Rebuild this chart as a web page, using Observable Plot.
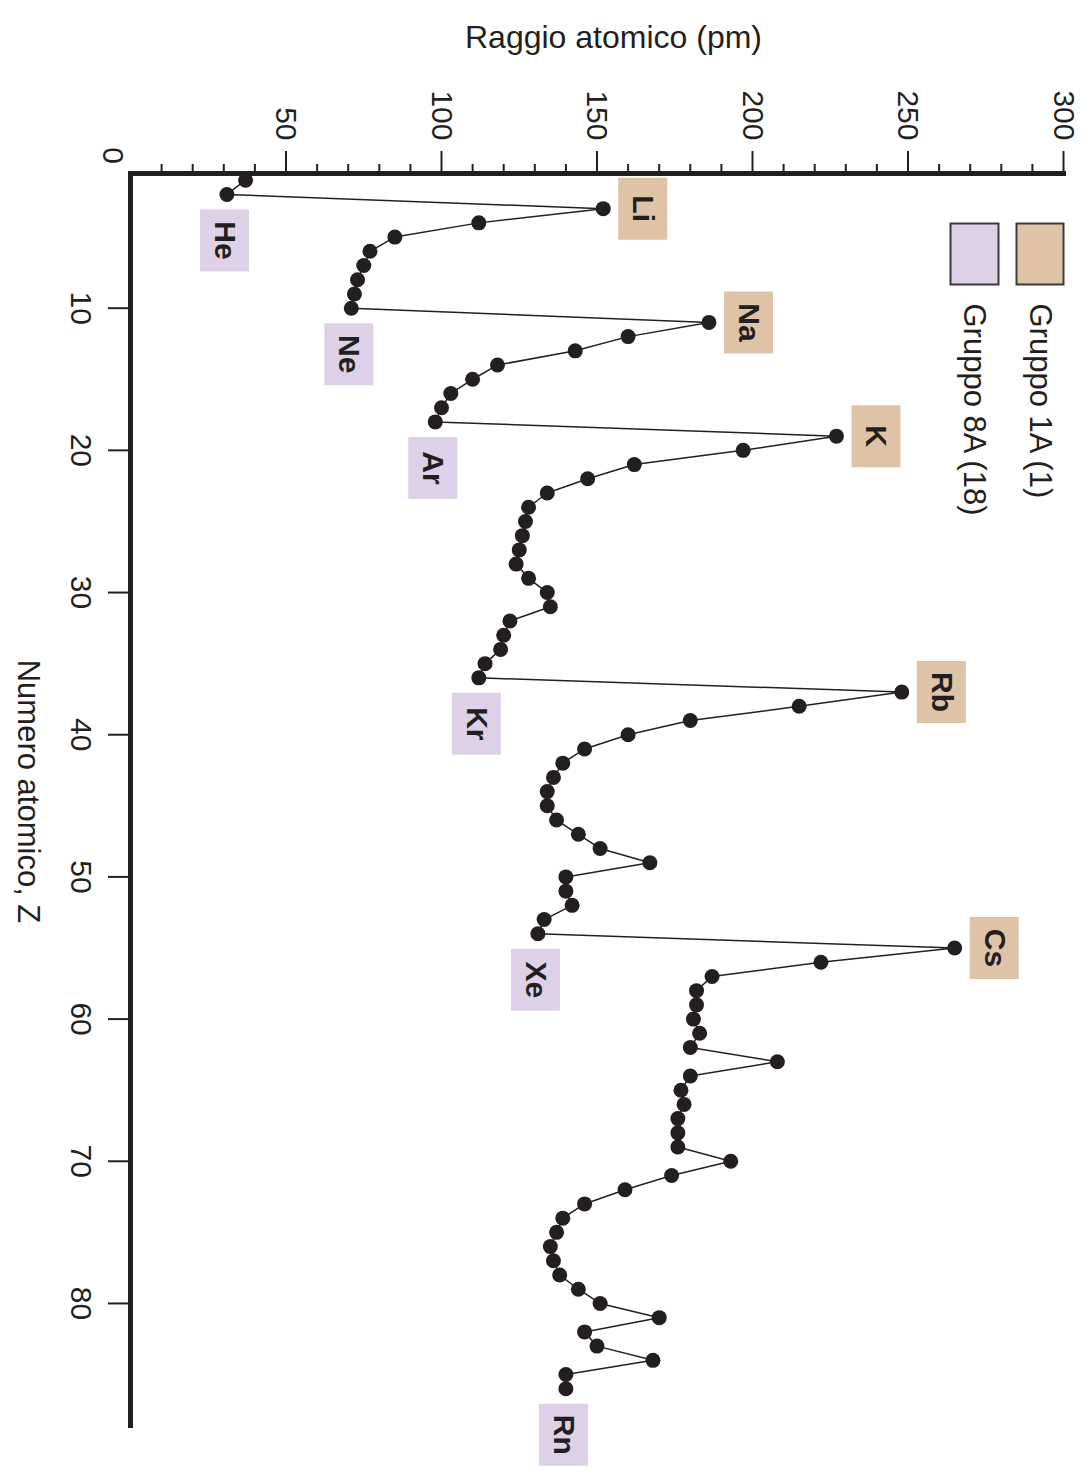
<!DOCTYPE html>
<html><head><meta charset="utf-8">
<script src="https://cdn.jsdelivr.net/npm/d3@7"></script>
<script src="https://cdn.jsdelivr.net/npm/@observablehq/plot@0.6"></script>
<style>html,body{margin:0;padding:0;background:#fff}</style>
</head><body><div id="chart"></div>
<script>
// Atomic radii (pm) by period, Z = 1 .. 86
const period1 = [37, 31];
const period2 = [152, 112, 85, 77, 75, 73, 72, 71];
const period3 = [186, 160, 143, 118, 110, 103, 100, 98];
const period4 = [227, 197, 162, 147, 134, 128, 127, 126, 125, 124, 128, 134, 135, 122, 120, 119, 114, 112];
const period5 = [248, 215, 180, 160, 146, 139, 136, 134, 134, 137, 144, 151, 167, 140, 140, 142, 133, 131];
const period6 = [265, 222, 187, 182, 182, 181, 183, 180, 208, 180, 177, 178, 176, 176, 176, 193, 174, 159, 146, 139, 137, 135, 136, 138, 144, 151, 170, 146, 150, 168, 140, 140];

const group1A = ["Li", "Na", "K", "Rb", "Cs"];
const group1AZ = [3, 11, 19, 37, 55];
const group8A = ["He", "Ne", "Ar", "Kr", "Xe", "Rn"];
const group8AZ = [2, 10, 18, 36, 54, 86];

const radiusTicks = [50, 100, 150, 200, 250, 300];
const radiusMinorTicks = [10, 20, 30, 40, 60, 70, 80, 90, 110, 120, 130, 140, 160, 170, 180, 190, 210, 220, 230, 240, 260, 270, 280, 290];
const zTicks = [10, 20, 30, 40, 50, 60, 70, 80];

const titleRadius = "Raggio atomico (pm)";
const titleZ = "Numero atomico, Z";
const legendLabels = ["Gruppo 1A (1)", "Gruppo 8A (18)"];

const ink = "#231f20";
const tan = "#dfc3a7";
const lilac = "#ddd0e7";

const radii = [...period1, ...period2, ...period3, ...period4, ...period5, ...period6];
const data = radii.map((r, i) => ({z: i + 1, r}));
const labels1A = group1A.map((name, i) => ({name, z: group1AZ[i], r: radii[group1AZ[i] - 1]}));
const labels8A = group8A.map((name, i) => ({name, z: group8AZ[i], r: radii[group8AZ[i] - 1]}));

const box = (x0, y0, w, h) => ({draw(ctx) { ctx.rect(x0, y0, w, h); }});
const mid = {textAnchor: "middle", lineAnchor: "middle"};

const chart = Plot.plot({
  width: 1089,
  height: 1472,
  marginLeft: 130,
  marginRight: 26,
  marginTop: 173,
  marginBottom: 47,
  style: {fontFamily: "'Liberation Sans', Arial, Helvetica, sans-serif", color: ink, background: "#fff"},
  x: {domain: [0, 300], range: [130, 1063]},
  y: {domain: [0, 88], range: [165.5, 1416.7]},
  marks: [
    Plot.axisX(radiusMinorTicks, {anchor: "top", tickSize: 10, strokeWidth: 2, stroke: ink, tickFormat: () => "", label: null}),
    Plot.axisX(radiusTicks, {anchor: "top", tickSize: 23, strokeWidth: 2, stroke: ink, tickFormat: () => "", label: null}),
    Plot.axisY(zTicks, {anchor: "left", tickSize: 22, strokeWidth: 2, stroke: ink, tickFormat: () => "", label: null}),
    Plot.frame({anchor: "top", stroke: ink, strokeWidth: 5}),
    Plot.frame({anchor: "left", stroke: ink, strokeWidth: 5}),
    Plot.text(radiusTicks, {x: d => d, text: d => String(d), frameAnchor: "top", rotate: 90, textAnchor: "end", lineAnchor: "middle", dy: -33, fontSize: 30}),
    Plot.text([0], {x: d => d, text: d => String(d), frameAnchor: "top", rotate: 90, ...mid, dx: -18, dy: -18, fontSize: 30}),
    Plot.text(zTicks, {y: d => d, text: d => String(d), frameAnchor: "left", rotate: 90, ...mid, dx: -50, fontSize: 30}),
    Plot.text([titleRadius], {text: d => d, frameAnchor: "top", ...mid, dx: 16.5, dy: -136, fontSize: 32}),
    Plot.text([titleZ], {text: d => d, frameAnchor: "left", rotate: 90, ...mid, dx: -103, dy: -8, fontSize: 31}),
    Plot.line(data, {x: "r", y: "z", stroke: ink, strokeWidth: 1.5}),
    Plot.dot(data, {x: "r", y: "z", r: 7.5, fill: ink, stroke: "none"}),
    Plot.dot(labels1A, {x: "r", y: "z", symbol: box(15, -31, 49, 62), fill: tan, stroke: "none"}),
    Plot.dot(labels8A, {x: "r", y: "z", symbol: box(-27, 15, 49, 62), fill: lilac, stroke: "none"}),
    Plot.text(labels1A, {x: "r", y: "z", text: "name", rotate: 90, ...mid, dx: 39.5, fontSize: 30, fontWeight: "bold"}),
    Plot.text(labels8A, {x: "r", y: "z", text: "name", rotate: 90, ...mid, dx: -2.5, dy: 46, fontSize: 30, fontWeight: "bold"}),
    Plot.dot([0], {frameAnchor: "top-right", symbol: box(-47, 50, 47, 61), fill: tan, stroke: "#3a3a3a", strokeWidth: 2}),
    Plot.dot([0], {frameAnchor: "top-right", symbol: box(-113, 50, 48, 61), fill: lilac, stroke: "#3a3a3a", strokeWidth: 2}),
    Plot.text([legendLabels[0]], {text: d => d, frameAnchor: "top-right", rotate: 90, textAnchor: "start", lineAnchor: "middle", dx: -24, dy: 130, fontSize: 31}),
    Plot.text([legendLabels[1]], {text: d => d, frameAnchor: "top-right", rotate: 90, textAnchor: "start", lineAnchor: "middle", dx: -90, dy: 130, fontSize: 31})
  ]
});
document.getElementById("chart").appendChild(chart);
</script>
</body></html>
